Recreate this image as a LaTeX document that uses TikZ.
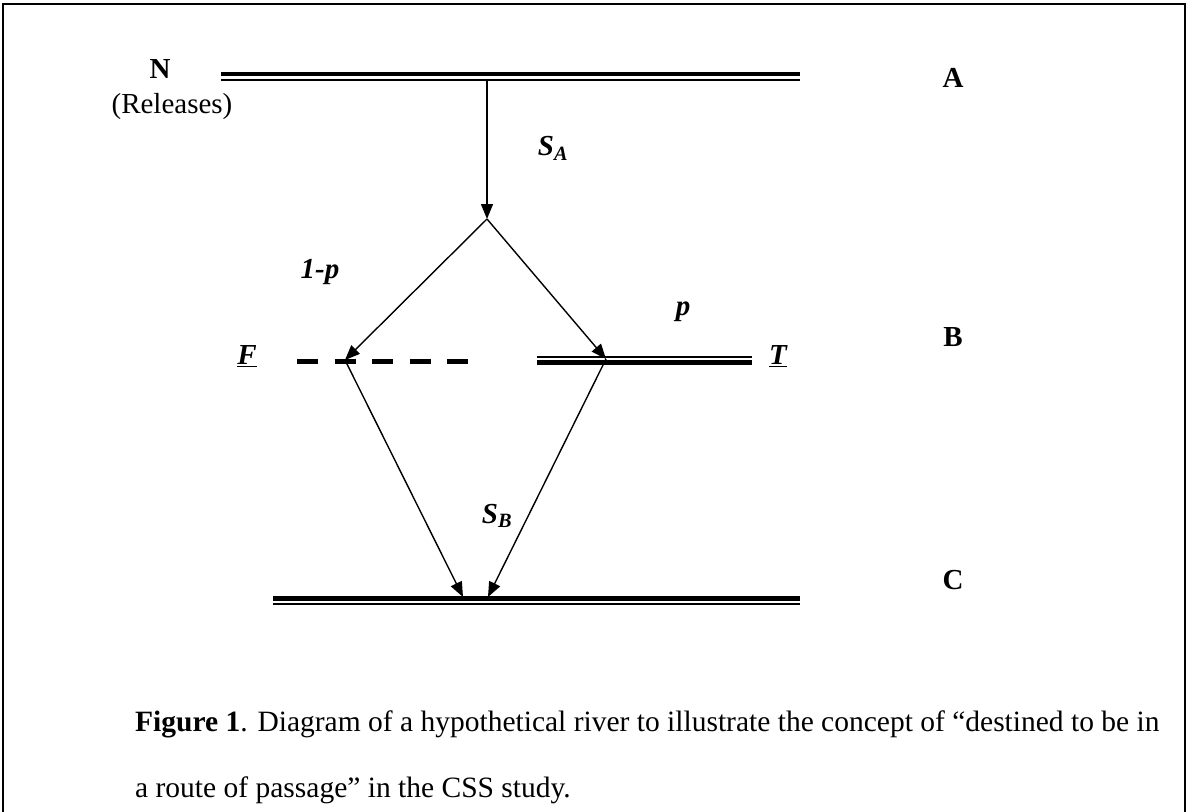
\documentclass[tikz,border=0pt]{standalone}
\usepackage{fontspec}
\setmainfont{Liberation Serif}
\usetikzlibrary{arrows.meta}
\begin{document}
\begin{tikzpicture}[x=1pt,y=-1pt,
  thickline/.style={line width=4.5pt},
  thinline/.style={line width=2pt},
  flow/.style={line width=1.4pt,-{Triangle[length=15pt,width=12pt]}},
  lbl/.style={font=\fontsize{29}{33}\selectfont\bfseries, inner sep=0pt},
  ilbl/.style={font=\fontsize{29}{33}\selectfont\bfseries\itshape, inner sep=0pt},
  captext/.style={font=\fontsize{29.5}{33}\selectfont, inner sep=0pt, anchor=base west}]
\useasboundingbox (0,0) rectangle (1188,811);
\begin{scope}
\clip (0,0) rectangle (1188,811);
\draw[line width=1.5pt] (3,840) -- (3,4) -- (1185,4) -- (1185,840);
\end{scope}
% line A
\coordinate (a1) at (221,74);
\coordinate (a2) at (800,74);
\draw[thickline] (a1) -- (a2);
\draw[thinline] (221,80) -- (800,80);
% line T
\draw[thinline] (537,357) -- (752,357);
\draw[thickline] (537,362.5) -- (752,362.5);
% F dashed
\draw[line width=5pt, dash pattern=on 21pt off 16.5pt] (297,361) -- (468,361);
% line C
\draw[thickline] (273,598.5) -- (800,598.5);
\draw[thinline] (273,604) -- (800,604);
% junctions
\coordinate (top) at (487,81);
\coordinate (split) at (487,219);
\coordinate (fj) at (345,360);
\coordinate (tj) at (606,359);
\coordinate (c1) at (463,597);
\coordinate (c2) at (488,597);
\draw[flow] (top) -- (split);
\draw[flow] (split) -- (fj);
\draw[flow] (split) -- (tj);
\draw[flow] (fj) -- (c1);
\draw[flow] (tj) -- (c2);
% labels
\node[lbl] (N) at (160,69) {N};
\node[inner sep=0pt, font=\fontsize{29}{33}\selectfont] (rel) at (172,107) {(Releases)};
\node[lbl] (A) at (953,78) {A};
\node[lbl] (B) at (953,337) {B};
\node[lbl] (C) at (953,580) {C};
\node[ilbl] (SA) at (553,148) {S\textsubscript{A}};
\node[ilbl] (onep) at (320,272) {1-p};
\node[ilbl] (p) at (683,312) {p};
\node[ilbl] (F) at (247,356) {\underline{F}};
\node[ilbl] (T) at (778,356) {\underline{T}};
\node[ilbl] (SB) at (497,516) {S\textsubscript{B}};
\node[captext] (cap1) at (135,731) {\textbf{Figure 1}. Diagram of a hypothetical river to illustrate the concept of “destined to be in};
\node[captext] (cap2) at (135,797) {a route of passage” in the CSS study.};
\end{tikzpicture}
\end{document}
